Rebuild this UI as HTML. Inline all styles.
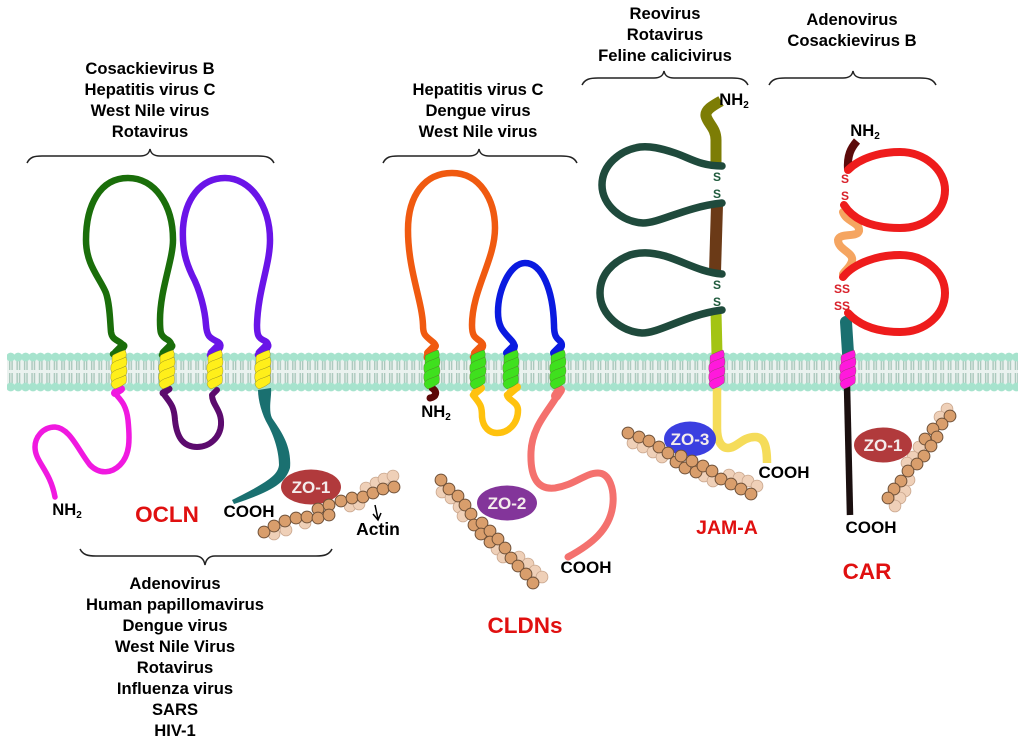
<!DOCTYPE html>
<html><head><meta charset="utf-8"><style>
html,body{margin:0;padding:0;background:#fff}
svg{display:block;filter:blur(.3px)}
text{font-family:"Liberation Sans",sans-serif;font-weight:bold;text-anchor:middle;fill:#000}
.l{font-size:16.6px}
.k{font-size:17px}
.t{font-size:22.5px;fill:#e01010}
.z{font-size:17px;fill:#f4ecec}
.c{fill:none;stroke-linecap:round;stroke-linejoin:round}
.b{fill:none;stroke:#222;stroke-width:1.5}
.d circle{fill:#d99e6c;stroke:#6e5038;stroke-width:1;r:5.9px}
.e circle{fill:#efd0b8;stroke:#c9a68d;stroke-width:.8;r:5.9px}
.s{font-size:12px}
</style></head><body>
<svg width="1024" height="746" viewBox="0 0 1024 746" xmlns="http://www.w3.org/2000/svg">
<defs>
<pattern id="lip" x="7" y="352" width="7.45" height="40" patternUnits="userSpaceOnUse">
<rect x="0" y="8" width="7.45" height="24" fill="#eaf2ef"/>
<rect x="2" y="8" width="1.4" height="10" fill="#aac8bc"/><rect x="4.4" y="8" width="1.4" height="10" fill="#aac8bc"/>
<rect x="2" y="21" width="1.4" height="10" fill="#aac8bc"/><rect x="4.4" y="21" width="1.4" height="10" fill="#aac8bc"/>
<circle cx="3.7" cy="5" r="4.4" fill="#a6e3cd"/><circle cx="3.7" cy="35" r="4.4" fill="#a6e3cd"/>
</pattern>
<g id="h" stroke="#55552a" stroke-opacity=".6" stroke-width=".5">
<path d="M-7 5Q-7 3 -4 2Q2 -1 6 -2Q8 1 7 5Q0 8 -7 13Z"/>
<path d="M-8 13Q-6 10 -3 9Q3 7 7 5Q9 10 7 14Q0 17 -7 22Q-9 17 -8 13Z"/>
<path d="M-8 22Q-6 19 -3 18Q3 16 7 14Q9 19 7 23Q0 26 -7 31Q-9 26 -8 22Z"/>
<path d="M-8 31Q-6 28 -3 27Q3 25 7 23Q8 27 7 31Q2 35 -4 37Q-8 35 -8 31Z"/>
</g>
</defs>
<rect x="7" y="352" width="1011" height="40" fill="url(#lip)"/>

<!-- OCLN -->
<g class="c" stroke-width="6.5">
<path stroke="#1a6e0a" d="M113 354C120 352 126 348 122 344C118 340 112 340 111 332C110 322 110 305 106 293C100 278 86 265 86 240C86 205 100 178 128 178C155 178 173 205 173 240C173 260 160 290 160 320C160 332 160 336 168 340C175 345 170 352 162 355"/>
<path stroke="#6a14e8" d="M210 355C218 352 224 346 218 342C211 338 207 338 206 325C205 310 200 290 192 275C186 262 182 250 183 228C185 200 200 178 225 178C250 178 270 205 270 240C270 265 258 290 257 325C257 335 258 338 265 341C272 345 266 352 258 355"/>
<path stroke="#1a6e0a" stroke-width="9" d="M116 353L123 346M164 353L171 346"/>
<path stroke="#6a14e8" stroke-width="9" d="M212 353L219 346M260 353L267 346"/>
<path stroke="#f019e0" stroke-width="5.5" d="M115 393C118 398 126 402 128 420C130 440 130 455 120 465C112 473 100 475 90 465C78 450 70 428 55 427C42 427 35 438 35 447C35 462 50 470 55 497"/>
<path stroke="#f019e0" stroke-width="8" d="M121 389L115 393"/>
<path stroke="#5c0b6e" stroke-width="6" d="M163 393C170 403 174 405 175 420C177 440 185 447 197 447C210 447 220 437 221 425C222 410 212 405 212 395L217 390"/>
<path stroke="#5c0b6e" stroke-width="7" d="M169 389L163 393"/>
</g>
<path fill="#1a7070" d="M258 390C258 400 262 415 268 425C276 440 279 455 279 465C278 475 268 482 232 500L234 504C270 492 285 484 290 468C292 445 280 430 272 418C268 410 272 395 271 388Z"/>
<use href="#h" x="119" y="352" fill="#ffef1a"/>
<use href="#h" x="167" y="352" fill="#ffef1a"/>
<use href="#h" x="215" y="352" fill="#ffef1a"/>
<use href="#h" x="263" y="352" fill="#ffef1a"/>

<!-- CLDN -->
<g class="c" stroke-width="6.5">
<path stroke="#f05a10" d="M427 358C425 352 440 349 434 343C426 336 423 336 423 325C422 300 408 270 408 230C408 195 425 173 452 173C480 173 495 200 495 228C495 260 472 290 472 325C472 335 474 337 480 341C488 347 478 352 473 357"/>
<path stroke="#0a1ae0" d="M507 357C512 352 518 348 512 341C504 332 498 328 498 312C498 290 510 263 525 263C542 263 553 290 554 325C554 335 556 338 560 341C565 346 558 352 554 355"/>
<path stroke="#f05a10" stroke-width="8" d="M428 353L435 346M475 353L482 346"/>
<path stroke="#0a1ae0" stroke-width="8" d="M507 353L514 346M554 353L561 346"/>
<path stroke="#ffc20e" d="M476 391L473 395C480 404 482 405 482 417C483 428 490 433 497 433C508 433 518 424 518 410C518 402 508 400 507 395L516 388"/>
<path stroke="#ffc20e" stroke-width="8" d="M481 388L475 393M517 387L510 393"/>
<path stroke="#f4716e" stroke-width="7" d="M560 391C550 410 532 425 531 452C530 478 538 490 555 488C575 485 585 473 598 473C610 473 614 490 613 503C611 530 590 545 568 557"/>
<path stroke="#f4716e" stroke-width="10" d="M560 390L556 396"/>
<path stroke="#5c0808" stroke-width="7" d="M432 388C438 392 436 397 430 398"/>
</g>
<use href="#h" x="432" y="352" fill="#3fe01e"/>
<use href="#h" x="478" y="352" fill="#3fe01e"/>
<use href="#h" x="511" y="352" fill="#3fe01e"/>
<use href="#h" x="558" y="352" fill="#3fe01e"/>

<!-- JAM-A -->
<g class="c">
<path stroke="#7d7d05" stroke-width="11" stroke-linecap="butt" d="M721 101C712 106 705 110 706 116C708 124 716 128 716 140L716 165"/>
<path stroke="#6b3a17" stroke-width="12" stroke-linecap="butt" d="M717 205L715 272"/>
<path stroke="#a3c414" stroke-width="11" stroke-linecap="butt" d="M716 312L717 354"/>
<path stroke="#1f4a3c" stroke-width="7.5" d="M722 166C700 166 690 158 675 153C660 148 650 146 640 147C620 150 602 165 602 185C602 205 622 222 643 223C660 223 685 207 722 203"/>
<path stroke="#1f4a3c" stroke-width="7.5" d="M722 274C700 272 685 262 665 256C650 252 640 252 630 255C612 262 600 275 600 293C600 315 622 332 642 333C660 333 685 315 722 310"/>
<path stroke="#f5dc5a" stroke-width="8.5" stroke-linecap="butt" d="M717 388L717 428C717 442 722 448 728 448C737 448 742 437 755 437C764 437 767 445 767 463"/>
</g>
<use href="#h" x="717" y="352" fill="#ff19dc"/>

<!-- CAR -->
<g class="c">
<path stroke="#5c0a0a" stroke-width="8" stroke-linecap="butt" d="M857 141C851 148 847 155 848 170"/>
<path stroke="#f5a561" stroke-width="8" d="M843 212C846 222 860 222 859 231C857 238 840 232 838 240C838 250 854 252 852 261C850 268 845 270 843 274"/>
<path stroke="#ee1c1c" stroke-width="8" d="M848 170C860 158 880 152 900 152C925 152 945 170 945 190C945 212 925 228 900 228C875 228 855 222 844 205"/>
<path stroke="#1a7070" stroke-width="12" stroke-linecap="round" d="M846 322L848 353"/>
<path stroke="#ee1c1c" stroke-width="8" d="M843 277C855 262 880 255 900 255C925 255 945 272 945 293C945 315 925 332 900 332C878 332 860 326 848 313"/>
<path stroke="#1a0f0f" stroke-width="6.5" stroke-linecap="butt" d="M847 386L850 515"/>
</g>
<use href="#h" x="848" y="352" fill="#ff19dc"/>

<!-- Actin -->
<g class="e">
<circle cx="274" cy="534"/><circle cx="286" cy="530"/><circle cx="305" cy="523"/><circle cx="350" cy="506"/><circle cx="359" cy="504"/><circle cx="366" cy="488"/><circle cx="376" cy="483"/><circle cx="384" cy="479"/><circle cx="393" cy="476"/>
<circle cx="442" cy="492"/><circle cx="451" cy="498"/><circle cx="459" cy="507"/><circle cx="463" cy="516"/><circle cx="497" cy="549"/><circle cx="503" cy="557"/><circle cx="519" cy="557"/><circle cx="528" cy="564"/><circle cx="535" cy="571"/><circle cx="542" cy="577"/>
<circle cx="633" cy="443"/><circle cx="643" cy="447"/><circle cx="653" cy="452"/><circle cx="662" cy="457"/><circle cx="704" cy="476"/><circle cx="713" cy="481"/><circle cx="729" cy="475"/><circle cx="739" cy="478"/><circle cx="748" cy="481"/><circle cx="757" cy="486"/>
<circle cx="947" cy="409"/><circle cx="940" cy="417"/><circle cx="919" cy="447"/><circle cx="913" cy="457"/><circle cx="907" cy="463"/><circle cx="909" cy="480"/><circle cx="905" cy="491"/><circle cx="900" cy="498"/><circle cx="895" cy="506"/>
</g>
<ellipse cx="311" cy="487" rx="30" ry="17.5" fill="#b13a3c"/>
<ellipse cx="507" cy="503" rx="30" ry="17.5" fill="#83359a"/>
<ellipse cx="690" cy="439" rx="26" ry="17.5" fill="#3b3fe0"/>
<ellipse cx="883" cy="445" rx="29" ry="17.5" fill="#b13a3c"/>
<g class="d">
<circle cx="264" cy="532"/><circle cx="274" cy="526"/><circle cx="285" cy="521"/><circle cx="296" cy="518"/><circle cx="307" cy="517"/><circle cx="318" cy="509"/><circle cx="318" cy="518"/><circle cx="329" cy="505"/><circle cx="329" cy="515"/><circle cx="341" cy="501"/><circle cx="352" cy="498"/><circle cx="363" cy="497"/><circle cx="373" cy="493"/><circle cx="383" cy="489"/><circle cx="394" cy="487"/>
<circle cx="441" cy="480"/><circle cx="449" cy="489"/><circle cx="458" cy="496"/><circle cx="465" cy="505"/><circle cx="471" cy="514"/><circle cx="474" cy="525"/><circle cx="482" cy="523"/><circle cx="481" cy="534"/><circle cx="490" cy="531"/><circle cx="490" cy="542"/><circle cx="498" cy="539"/><circle cx="505" cy="548"/><circle cx="511" cy="558"/><circle cx="518" cy="566"/><circle cx="526" cy="574"/><circle cx="533" cy="583"/>
<circle cx="628" cy="433"/><circle cx="639" cy="437"/><circle cx="649" cy="441"/><circle cx="659" cy="447"/><circle cx="668" cy="453"/><circle cx="676" cy="462"/><circle cx="681" cy="456"/><circle cx="685" cy="468"/><circle cx="692" cy="461"/><circle cx="696" cy="472"/><circle cx="703" cy="466"/><circle cx="712" cy="471"/><circle cx="721" cy="479"/><circle cx="731" cy="484"/><circle cx="741" cy="489"/><circle cx="751" cy="494"/>
<circle cx="950" cy="416"/><circle cx="942" cy="424"/><circle cx="933" cy="429"/><circle cx="937" cy="437"/><circle cx="925" cy="439"/><circle cx="931" cy="446"/><circle cx="924" cy="456"/><circle cx="917" cy="464"/><circle cx="908" cy="471"/><circle cx="901" cy="481"/><circle cx="894" cy="489"/><circle cx="888" cy="498"/>
</g>
<path d="M375 505L378 519M373 514L378 520L381 513" fill="none" stroke="#000" stroke-width="1.5"/>

<!-- Braces -->
<path class="b" d="M27 163C30 157 34 156 42 156L140 156C146 156 149 154 150 149C151 154 154 156 160 156L258 156C266 156 271 157 274 163"/>
<path class="b" d="M80 549C83 555 88 556 96 556L195 556C201 556 204 559 205 565C206 559 209 556 215 556L316 556C324 556 329 555 332 549"/>
<path class="b" d="M383 163C386 157 390 156 398 156L469 156C475 156 478 154 479 149C480 154 483 156 489 156L561 156C569 156 574 157 577 163"/>
<path class="b" d="M582 85C585 79 590 78 598 78L654 78C660 78 663 76 664 71C665 76 668 78 674 78L732 78C740 78 745 79 748 85"/>
<path class="b" d="M769 85C772 79 777 78 785 78L843 78C849 78 852 76 853 71C854 76 857 78 863 78L920 78C928 78 933 79 936 85"/>

<!-- Labels -->
<g class="l">
<text x="150" y="74">Cosackievirus B</text><text x="150" y="95">Hepatitis virus C</text><text x="150" y="116">West Nile virus</text><text x="150" y="137">Rotavirus</text>
<text x="478" y="95">Hepatitis virus C</text><text x="478" y="116">Dengue virus</text><text x="478" y="137">West Nile virus</text>
<text x="665" y="19">Reovirus</text><text x="665" y="40">Rotavirus</text><text x="665" y="61">Feline calicivirus</text>
<text x="852" y="25">Adenovirus</text><text x="852" y="46">Cosackievirus B</text>
<text x="175" y="589">Adenovirus</text><text x="175" y="610">Human papillomavirus</text><text x="175" y="631">Dengue virus</text><text x="175" y="652">West Nile Virus</text><text x="175" y="673">Rotavirus</text><text x="175" y="694">Influenza virus</text><text x="175" y="715">SARS</text><text x="175" y="736">HIV-1</text>
<text x="67" y="515">NH<tspan font-size="10" dy="3">2</tspan></text>
<text x="436" y="417">NH<tspan font-size="10" dy="3">2</tspan></text>
<text x="734" y="105">NH<tspan font-size="10" dy="3">2</tspan></text>
<text x="865" y="136">NH<tspan font-size="10" dy="3">2</tspan></text>
<text class="k" x="249" y="517">COOH</text><text class="k" x="586" y="573">COOH</text><text class="k" x="784" y="478">COOH</text><text class="k" x="871" y="533">COOH</text>
<text style="font-size:17.5px" x="378" y="535">Actin</text>
</g>
<text class="t" x="167" y="522">OCLN</text>
<text class="t" x="525" y="633">CLDNs</text>
<text class="t" style="font-size:19.5px" x="727" y="534">JAM-A</text>
<text class="t" x="867" y="579">CAR</text>
<text class="z" x="311" y="493">ZO-1</text>
<text class="z" x="507" y="509">ZO-2</text>
<text class="z" x="690" y="445">ZO-3</text>
<text class="z" x="883" y="451">ZO-1</text>
<g class="s">
<text x="717" y="181" style="fill:#1f5a3c">S</text><text x="717" y="198" style="fill:#1f5a3c">S</text><text x="717" y="289" style="fill:#1f5a3c">S</text><text x="717" y="306" style="fill:#1f5a3c">S</text>
</g>
<g class="s">
<text x="845" y="183" style="fill:#d8202a">S</text><text x="845" y="200" style="fill:#d8202a">S</text><text x="842" y="293" style="fill:#d8202a">SS</text><text x="842" y="310" style="fill:#d8202a">SS</text>
</g>
</svg>
</body></html>
